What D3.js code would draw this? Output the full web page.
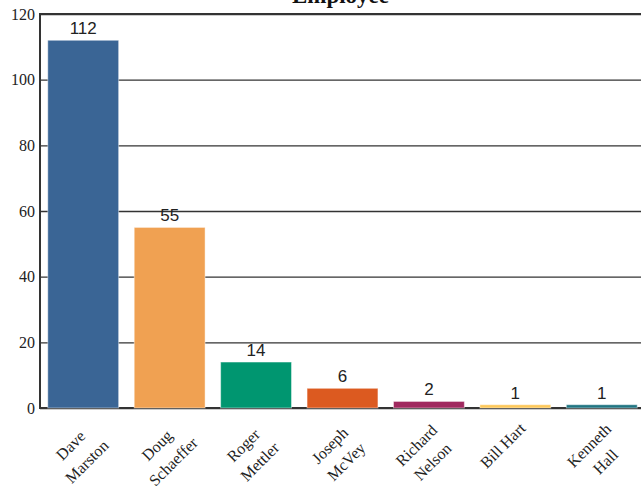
<!DOCTYPE html>
<html>
<head>
<meta charset="utf-8">
<script src="https://cdn.jsdelivr.net/npm/d3@7"></script>
<style>
  body { margin: 0; background: #fff; }
</style>
</head>
<body>
<svg id="chart" width="641" height="491"></svg>
<script>
const employees = ["Dave Marston", "Doug Schaeffer", "Roger Mettler", "Joseph McVey",
  "Richard Nelson", "Bill Hart", "Kenneth Hall"];
const counts = [112, 55, 14, 6, 2, 1, 1];
const barColors = ["#3a6595", "#f0a152", "#009670", "#dc5a20", "#a0295f", "#fdc85a", "#217582"];
const yTicks = [0, 20, 40, 60, 80, 100, 120];
const title = "Employee";

const margin = {top: 14, left: 40};
const width = 605;
const height = 394;

const svg = d3.select("#chart");

const x = d3.scaleBand()
  .domain(employees)
  .range([0, width])
  .paddingInner(0.18)
  .paddingOuter(0.09);

const y = d3.scaleLinear()
  .domain([0, 120])
  .range([height, 0]);

const g = svg.append("g")
  .attr("transform", `translate(${margin.left},${margin.top})`);

// gridlines + tick labels
const yAxis = g.append("g")
  .call(d3.axisLeft(y).tickValues(yTicks).tickSize(-width).tickPadding(5).tickSizeOuter(0));
yAxis.select(".domain").remove();
yAxis.selectAll("line")
  .attr("stroke", "#333")
  .attr("stroke-width", 1.4);
yAxis.selectAll("text")
  .attr("font-family", "'Liberation Serif', 'Times New Roman', serif")
  .attr("font-size", 16)
  .attr("fill", "#222");

// frame: top, left, bottom
g.append("path")
  .attr("d", `M${width + 10},0H0V${height}H${width + 10}`)
  .attr("fill", "none")
  .attr("stroke", "#333")
  .attr("stroke-width", 2);

g.selectAll(".bar")
  .data(employees)
  .enter()
  .append("rect")
    .classed("bar", true)
    .attr("x", d => x(d))
    .attr("width", x.bandwidth())
    .attr("y", (d, i) => y(counts[i]))
    .attr("height", (d, i) => height - y(counts[i]))
    .attr("fill", (d, i) => barColors[i])
    .attr("stroke", "rgba(255,255,255,0.45)")
    .attr("stroke-width", 1);

g.selectAll(".value")
  .data(employees)
  .enter()
  .append("text")
    .classed("value", true)
    .attr("x", d => x(d) + x.bandwidth() / 2)
    .attr("y", (d, i) => y(counts[i]) - 6)
    .attr("text-anchor", "middle")
    .attr("font-family", "'Liberation Sans', Arial, sans-serif")
    .attr("font-size", 17)
    .attr("fill", "#222")
    .text((d, i) => counts[i]);

// rotated category labels
const labels = g.selectAll(".xlabel")
  .data(employees)
  .enter()
  .append("text")
    .classed("xlabel", true)
    .attr("transform", d => `translate(${x(d) + x.bandwidth() / 2 - 13},${height + 37}) rotate(-45)`)
    .attr("text-anchor", "middle")
    .attr("dominant-baseline", "central")
    .attr("font-family", "'Liberation Serif', 'Times New Roman', serif")
    .attr("font-size", 16)
    .attr("fill", "#222");

labels.each(function(d) {
  const lines = d.length > 10 ? [d.slice(0, d.indexOf(" ")), d.slice(d.indexOf(" ") + 1)] : [d];
  d3.select(this).selectAll("tspan")
    .data(lines)
    .enter()
    .append("tspan")
      .attr("x", 0)
      .attr("dy", (l, i) => i === 0 ? 0 : 23)
      .text(l => l);
});

svg.append("text")
  .attr("x", margin.left + width / 2 - 2)
  .attr("y", 3)
  .attr("text-anchor", "middle")
  .attr("font-family", "'Liberation Serif', 'Times New Roman', serif")
  .attr("font-weight", "bold")
  .attr("font-size", 23)
  .attr("fill", "#111")
  .text(title);
</script>
</body>
</html>
